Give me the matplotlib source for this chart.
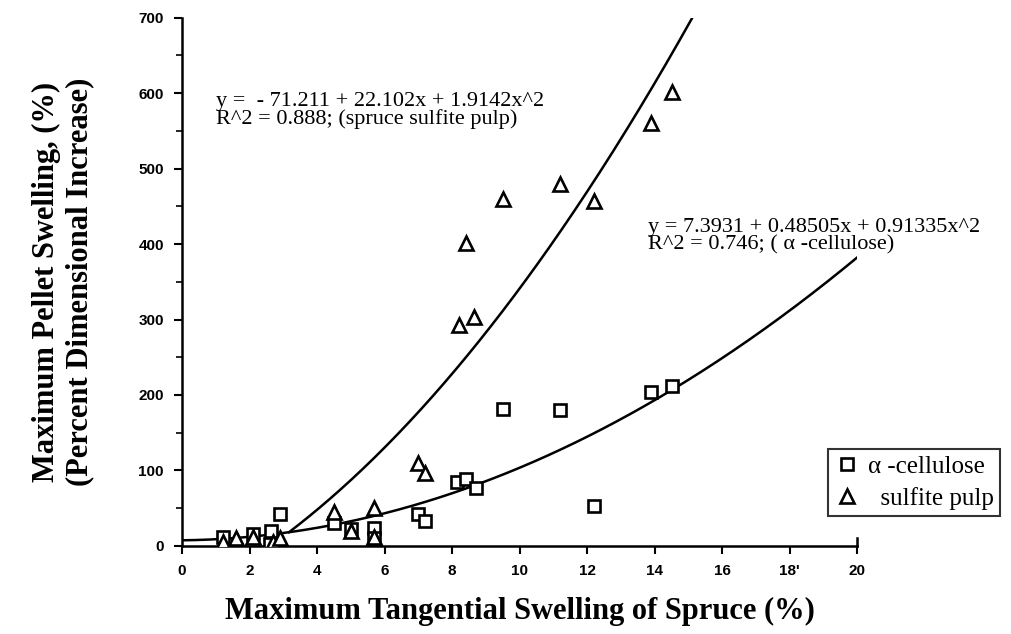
import numpy as np
import matplotlib
matplotlib.use("Agg")
import matplotlib.pyplot as plt

# alpha-cellulose (squares)
cell_x = [1.2, 2.1, 2.65, 2.9, 2.6, 4.5, 5.0, 5.7, 5.7, 7.0, 7.2, 8.15, 8.4, 8.7, 9.5, 11.2, 12.2, 13.9, 14.5]
cell_y = [12, 16, 20, 42, 2, 30, 22, 24, 10, 42, 33, 85, 88, 77, 182, 180, 53, 204, 212]

# spruce sulfite pulp (triangles)
pulp_x = [1.2, 1.6, 2.1, 2.7, 2.9, 4.5, 5.0, 5.7, 5.7, 7.0, 7.2, 8.2, 8.65, 8.4, 9.5, 11.2, 12.2, 13.9, 14.5]
pulp_y = [5, 10, 12, 5, 10, 45, 20, 50, 12, 110, 97, 293, 304, 402, 460, 480, 457, 561, 601]

# quadratic fits printed on the chart
cell_fit = [7.3931, 0.48505, 0.91335]
pulp_fit = [-71.211, 22.102, 1.9142]

xticks = [0, 2, 4, 6, 8, 10, 12, 14, 16, 18, 20]
xticklabels = ["0", "2", "4", "6", "8", "10", "12", "14", "16", "18'", "20"]
yticks = [0, 100, 200, 300, 400, 500, 600, 700]

fig = plt.figure(figsize=(10.11, 6.34), dpi=100)
ax = fig.add_axes([0.18, 0.139, 0.668, 0.833])

def quad(c, x):
    return c[0] + c[1] * x + c[2] * x ** 2

# fit curves
xc = np.linspace(0, 20, 300)
ax.plot(xc, quad(cell_fit, xc), color="black", lw=1.8, zorder=2)
# sulfite curve drawn from where it meets the cellulose curve
diff = np.array(pulp_fit) - np.array(cell_fit)
x0 = max(np.roots(diff[::-1]).real)
xp = np.linspace(x0, 16, 300)
yp = quad(pulp_fit, xp)
ax.plot(xp[yp <= 700], yp[yp <= 700], color="black", lw=1.8, zorder=2)

ax.plot(cell_x, cell_y, ls="none", marker="s", ms=8.5, mfc="white", mec="black",
        mew=1.9, label="\u03b1 -cellulose", zorder=3)
ax.plot(pulp_x, pulp_y, ls="none", marker="^", ms=10.5, mfc="white", mec="black",
        mew=1.9, label="  sulfite pulp", zorder=3)

ax.set_xlim(0, 20)
ax.set_ylim(0, 700)
ax.spines["top"].set_visible(False)
ax.spines["right"].set_visible(False)
ax.spines["left"].set_linewidth(1.8)
ax.spines["bottom"].set_linewidth(1.8)
ax.axvline(20, ymax=0.015, color="black", lw=1.8, clip_on=False)

ax.set_xticks(xticks)
ax.set_xticklabels(xticklabels)
ax.set_yticks(yticks)
ax.set_yticks(np.arange(50, 700, 100), minor=True)
ax.tick_params(axis="both", which="major", length=6, width=1.5, pad=7)
ax.tick_params(axis="y", which="minor", length=4, width=1.2)
for lab in ax.get_xticklabels() + ax.get_yticklabels():
    lab.set_fontfamily("Liberation Sans")
    lab.set_fontweight("bold")
    lab.set_fontsize(11)

ax.set_xlabel("Maximum Tangential Swelling of Spruce (%)", family="Liberation Serif",
              fontweight="bold", fontsize=22, labelpad=14)
ax.set_ylabel("Maximum Pellet Swelling, (%)\n(Percent Dimensional Increase)",
              family="Liberation Serif", fontweight="bold", fontsize=22, labelpad=32,
              linespacing=1.2)

ax.text(1.0, 577, "y =  - 71.211 + 22.102x + 1.9142x^2\nR^2 = 0.888; (spruce sulfite pulp)",
        family="Liberation Serif", fontsize=16, va="center", ha="left", linespacing=0.88)
ax.text(13.8, 410, "y = 7.3931 + 0.48505x + 0.91335x^2\nR^2 = 0.746; ( \u03b1 -cellulose)",
        family="Liberation Serif", fontsize=16, va="center", ha="left", linespacing=0.88,
        clip_on=False)

leg = ax.legend(loc="lower left", bbox_to_anchor=(0.957, 0.057), frameon=True, fancybox=False,
                edgecolor="black", prop={"family": "Liberation Serif", "size": 18},
                handletextpad=0.35, borderpad=0.25, labelspacing=0.35, handlelength=1.0,
                borderaxespad=0)
leg.get_frame().set_linewidth(1.5)

fig.savefig("out.png", dpi=100)
